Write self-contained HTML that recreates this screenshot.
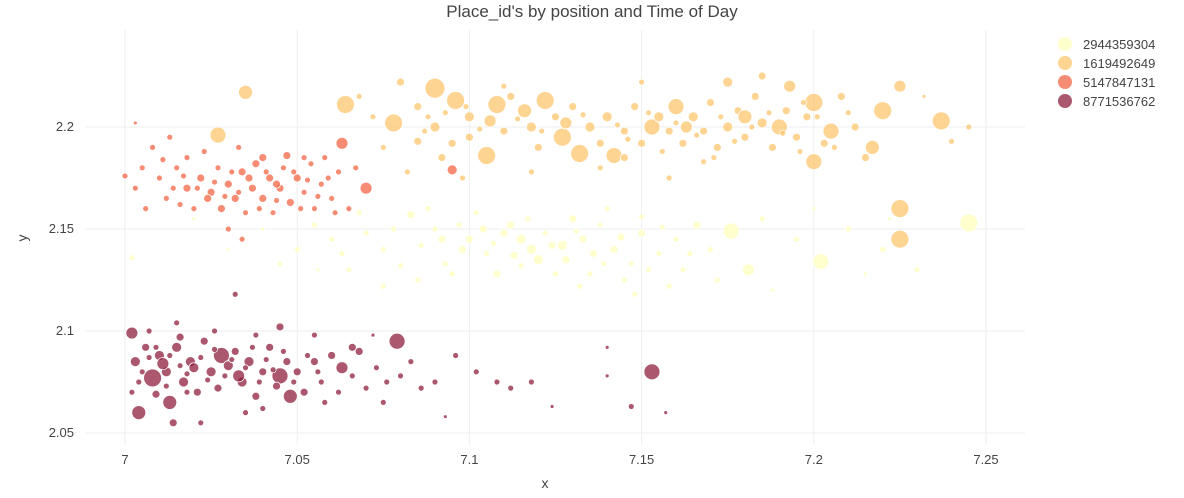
<!DOCTYPE html>
<html><head><meta charset="utf-8">
<style>
body{margin:0;background:#fff;font-family:"Liberation Sans",Arial,sans-serif;}
svg text{font-family:"Liberation Sans",Arial,sans-serif;fill:#444;}
</style></head>
<body>
<svg id="chart" width="1184" height="493">
<text x="592" y="17" text-anchor="middle" font-size="17">Place_id's by position and Time of Day</text>
<g id="grid"></g><g id="marks"></g><g id="legend"></g>
<text x="545" y="488" text-anchor="middle" font-size="14">x</text>
<text x="27" y="238" text-anchor="middle" font-size="14" transform="rotate(-90 27 238)">y</text>
</svg>
<script>
const seriesNames=["2944359304","1619492649","5147847131","8771536762"];
const seriesColors=["#ffffc4","#fdc46a","#f2603f","#8a1838"];
const xTicks=[7,7.05,7.1,7.15,7.2,7.25];
const xTickLabels=["7","7.05","7.1","7.15","7.2","7.25"];
const yTicks=[2.05,2.1,2.15,2.2];
const yTickLabels=["2.05","2.1","2.15","2.2"];
// x,y,r triples per series
const s0="7.245,2.153,9 7.202,2.134,8 7.176,2.149,8 7.181,2.130,6 7.083,2.157,4 7.090,2.150,3 7.100,2.145,4 7.105,2.138,3 7.112,2.152,4 7.118,2.140,5 7.122,2.148,3 7.128,2.135,4 7.133,2.145,4 7.138,2.152,3 7.142,2.140,4 7.147,2.133,3 7.150,2.148,4 7.155,2.138,3 7.160,2.145,3 7.166,2.152,4 7.095,2.128,3 7.102,2.158,3 7.108,2.128,4 7.115,2.132,3 7.125,2.128,3 7.130,2.155,4 7.135,2.128,3 7.140,2.160,3 7.145,2.125,3 7.070,2.148,3 7.075,2.140,3 7.060,2.145,3 7.055,2.152,3 7.050,2.140,3 7.045,2.133,3 7.080,2.132,3 7.085,2.125,3 7.065,2.130,3 7.040,2.150,2 7.030,2.140,2 7.002,2.136,3 7.020,2.155,2 7.170,2.140,3 7.185,2.155,3 7.195,2.145,3 7.210,2.150,3 7.220,2.140,3 7.230,2.130,3 7.222,2.155,2 7.148,2.118,3 7.158,2.122,3 7.132,2.122,3 7.115,2.145,5 7.098,2.140,4 7.120,2.135,5 7.127,2.142,5 7.110,2.148,4 7.092,2.145,4 7.150,2.156,3 7.162,2.130,3 7.075,2.122,3 7.068,2.158,3 7.172,2.125,3 7.188,2.120,2 7.088,2.160,3 7.200,2.160,2 7.215,2.128,2 7.104,2.150,4 7.113,2.137,4 7.124,2.142,4 7.136,2.138,4 7.144,2.146,4 7.107,2.143,3 7.117,2.155,3 7.131,2.149,3 7.139,2.133,3 7.097,2.152,3 7.093,2.133,3 7.086,2.142,3 7.078,2.150,3 7.063,2.138,3 7.056,2.130,2 7.152,2.130,3 7.164,2.138,3 7.156,2.151,3";
const s1="7.035,2.217,7 7.064,2.211,9 7.090,2.219,10 7.096,2.213,9 7.108,2.211,9 7.116,2.208,7 7.122,2.213,9 7.105,2.186,9 7.127,2.195,9 7.132,2.187,9 7.142,2.186,8 7.160,2.210,8 7.190,2.200,8 7.200,2.212,9 7.200,2.183,8 7.220,2.208,9 7.237,2.203,9 7.225,2.160,9 7.225,2.145,9 7.078,2.202,9 7.027,2.196,8 7.153,2.200,8 7.205,2.198,8 7.225,2.220,6 7.217,2.190,7 7.080,2.222,4 7.085,2.210,4 7.090,2.200,5 7.095,2.192,4 7.100,2.205,5 7.110,2.198,4 7.112,2.215,4 7.118,2.200,5 7.125,2.205,4 7.130,2.210,4 7.135,2.200,5 7.138,2.192,4 7.140,2.205,5 7.145,2.198,4 7.148,2.210,4 7.150,2.192,4 7.155,2.205,5 7.158,2.198,4 7.162,2.192,4 7.165,2.205,5 7.168,2.198,4 7.170,2.212,4 7.172,2.190,4 7.175,2.200,5 7.178,2.208,4 7.180,2.195,4 7.183,2.215,4 7.185,2.202,5 7.188,2.190,4 7.192,2.208,4 7.195,2.195,4 7.198,2.205,4 7.203,2.192,4 7.208,2.215,4 7.212,2.200,4 7.215,2.185,4 7.175,2.222,5 7.185,2.225,4 7.150,2.222,3 7.145,2.185,4 7.120,2.190,4 7.110,2.220,3 7.100,2.195,4 7.085,2.193,4 7.075,2.190,3 7.072,2.205,3 7.092,2.185,4 7.168,2.183,3 7.158,2.175,3 7.138,2.180,3 7.118,2.178,3 7.098,2.175,3 7.082,2.178,3 7.245,2.200,3 7.240,2.193,3 7.232,2.215,2 7.068,2.215,3 7.180,2.205,7 7.128,2.202,6 7.163,2.200,6 7.106,2.203,6 7.193,2.220,6 7.088,2.205,3 7.093,2.207,3 7.103,2.199,3 7.114,2.204,3 7.121,2.198,3 7.133,2.206,3 7.143,2.201,3 7.152,2.207,3 7.160,2.202,3 7.166,2.196,3 7.173,2.205,3 7.177,2.193,3 7.182,2.200,3 7.187,2.207,3 7.191,2.197,3 7.196,2.188,3 7.201,2.205,3 7.206,2.190,3 7.210,2.207,3 7.099,2.210,3 7.087,2.198,3 7.146,2.194,3 7.156,2.188,3 7.171,2.185,3 7.197,2.212,3";
const s2="7.063,2.192,6 7.070,2.170,6 7.095,2.179,5 7.005,2.180,3 7.010,2.175,3 7.012,2.165,3 7.015,2.180,3 7.018,2.170,4 7.020,2.160,3 7.022,2.175,4 7.025,2.168,4 7.027,2.180,3 7.028,2.160,4 7.030,2.172,4 7.032,2.165,4 7.034,2.178,4 7.035,2.158,3 7.037,2.170,4 7.038,2.182,4 7.040,2.165,4 7.042,2.175,4 7.043,2.158,3 7.045,2.170,4 7.046,2.180,3 7.048,2.163,4 7.050,2.175,4 7.052,2.168,3 7.054,2.182,3 7.055,2.160,3 7.057,2.172,3 7.060,2.165,3 7.062,2.178,3 7.065,2.160,3 7.067,2.180,3 7.008,2.190,3 7.013,2.195,3 7.018,2.185,3 7.003,2.170,3 7.000,2.176,3 7.006,2.160,3 7.023,2.188,3 7.033,2.190,3 7.040,2.185,4 7.047,2.186,4 7.052,2.185,3 7.030,2.150,3 7.034,2.145,3 7.003,2.202,2 7.024,2.165,4 7.036,2.175,4 7.044,2.172,4 7.016,2.162,3 7.058,2.185,3 7.021,2.170,3 7.026,2.173,3 7.029,2.166,3 7.031,2.178,3 7.033,2.168,3 7.039,2.160,3 7.041,2.178,3 7.044,2.164,3 7.049,2.178,3 7.051,2.160,3 7.053,2.174,3 7.056,2.166,3 7.059,2.175,3 7.014,2.170,3 7.017,2.176,3 7.011,2.184,3 7.061,2.158,3";
const s3="7.079,2.095,8 7.153,2.080,8 7.013,2.065,7 7.004,2.060,7 7.008,2.077,9 7.028,2.088,8 7.045,2.078,8 7.048,2.068,7 7.063,2.082,6 7.002,2.099,6 7.003,2.085,5 7.006,2.092,4 7.010,2.088,5 7.012,2.080,5 7.015,2.092,5 7.017,2.075,5 7.019,2.085,5 7.021,2.070,4 7.023,2.095,4 7.025,2.080,5 7.027,2.072,4 7.030,2.083,5 7.032,2.090,4 7.034,2.075,5 7.036,2.085,5 7.038,2.068,4 7.040,2.080,4 7.042,2.092,4 7.044,2.073,4 7.047,2.085,4 7.050,2.080,4 7.052,2.070,4 7.055,2.085,4 7.057,2.075,3 7.060,2.088,4 7.062,2.070,3 7.066,2.078,3 7.068,2.090,4 7.070,2.072,3 7.073,2.082,3 7.076,2.075,3 7.080,2.078,3 7.083,2.085,3 7.086,2.072,3 7.090,2.075,3 7.096,2.088,3 7.102,2.080,3 7.108,2.075,3 7.112,2.072,3 7.118,2.075,3 7.124,2.063,2 7.140,2.078,2 7.147,2.063,3 7.157,2.060,2 7.140,2.092,2 7.093,2.058,2 7.022,2.055,3 7.014,2.055,4 7.032,2.118,3 7.015,2.104,3 7.045,2.102,4 7.055,2.098,3 7.066,2.092,4 7.072,2.098,2 7.009,2.069,4 7.035,2.060,3 7.040,2.062,3 7.058,2.065,3 7.075,2.065,3 7.016,2.097,4 7.026,2.100,3 7.038,2.098,3 7.002,2.070,3 7.007,2.100,3 7.020,2.082,5 7.033,2.078,6 7.011,2.084,6 7.005,2.080,3 7.009,2.092,3 7.013,2.088,3 7.016,2.083,3 7.018,2.079,3 7.022,2.087,3 7.024,2.076,3 7.026,2.091,3 7.029,2.078,3 7.031,2.086,3 7.035,2.082,3 7.037,2.092,3 7.039,2.075,3 7.041,2.086,3 7.043,2.081,3 7.046,2.090,3 7.049,2.075,3 7.053,2.088,3 7.056,2.080,3 7.004,2.075,3 7.007,2.087,3 7.012,2.073,3 7.018,2.070,3";
const groups=[s0,s1,s2,s3].map(s=>s.trim().split(/\s+/).map(t=>t.split(",").map(Number)));

const X0=125,XK=3444,Y0=127,YK=2040;
const sx=v=>X0+(v-7)*XK, sy=v=>Y0-(v-2.2)*YK;
const NS="http://www.w3.org/2000/svg";
const grid=document.getElementById("grid"),marks=document.getElementById("marks"),leg=document.getElementById("legend");
function mk(tag,attrs,parent){const e=document.createElementNS(NS,tag);for(const k in attrs)e.setAttribute(k,attrs[k]);parent.appendChild(e);return e;}
xTicks.forEach((v,i)=>{
  const l=mk("line",{x1:sx(v),x2:sx(v),y1:30,y2:445,stroke:"#eee","stroke-width":1},grid);
  
  
  const t=mk("text",{x:sx(v),y:464,"text-anchor":"middle","font-size":"13"},grid);t.textContent=xTickLabels[i];
  
  
});
yTicks.forEach((v,i)=>{
  const l=mk("line",{x1:85,x2:1025,y1:sy(v),y2:sy(v),stroke:"#eee","stroke-width":1},grid);
  
  
  const t=mk("text",{x:74,y:sy(v)+4,"text-anchor":"end","font-size":"13"},grid);t.textContent=yTickLabels[i];
  
  
});
groups.forEach((pts,gi)=>{
  pts.forEach(p=>{
    const c=mk("circle",{cx:sx(p[0]),cy:sy(p[1]),r:p[2],fill:seriesColors[gi],"fill-opacity":gi==0?0.85:0.72,stroke:"#fff","stroke-width":0.8},marks);
    
    
  });
  const y=44+gi*19;
  const lc=mk("circle",{cx:1065,cy:y,r:7,fill:seriesColors[gi],"fill-opacity":gi==0?0.85:0.72},leg);
  
  
  const lt=mk("text",{x:1083,y:y+5,"font-size":"13"},leg);lt.textContent=seriesNames[gi];
  
  
});
</script>
</body></html>
